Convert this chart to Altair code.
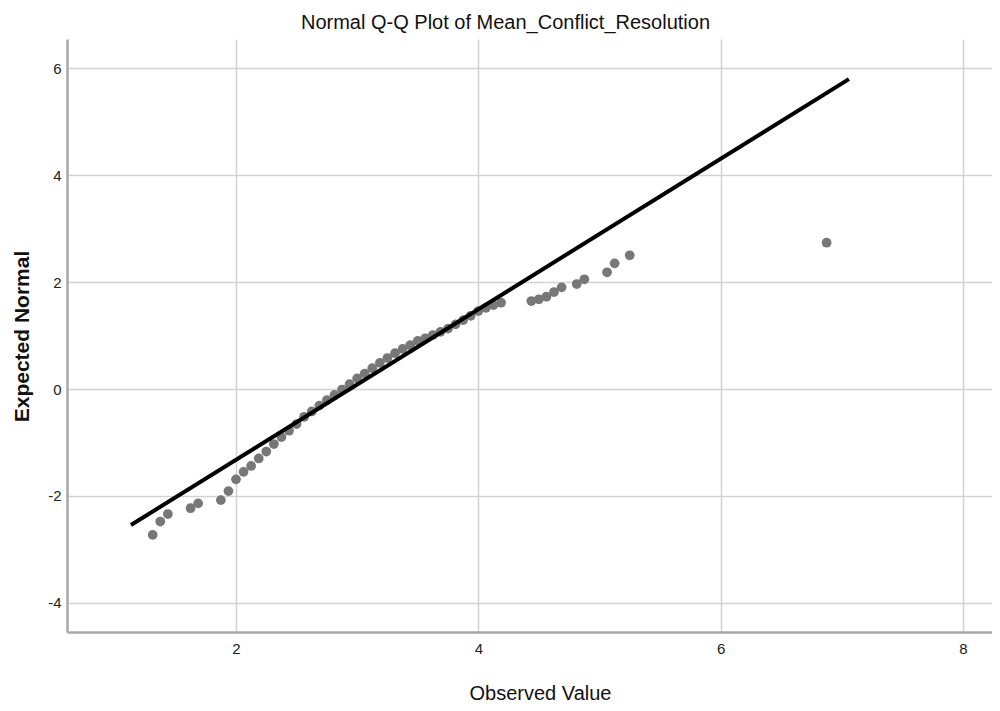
import altair as alt
import pandas as pd

observed = [1.3125, 1.375, 1.4375, 1.625, 1.6875, 1.875, 1.9375, 2.0, 2.0625, 2.125,
            2.1875, 2.25, 2.3125, 2.375, 2.4375, 2.5, 2.5625, 2.625, 2.6875, 2.75,
            2.8125, 2.875, 2.9375, 3.0, 3.0625, 3.125, 3.1875, 3.25, 3.3125, 3.375,
            3.4375, 3.5, 3.5625, 3.625, 3.6875, 3.75, 3.8125, 3.875, 3.9375, 4.0,
            4.0625, 4.125, 4.1875, 4.4375, 4.5, 4.5625, 4.625, 4.6875, 4.8125, 4.875,
            5.0625, 5.125, 5.25, 6.875]
expected = [-2.73, -2.48, -2.34, -2.23, -2.14, -2.08, -1.91, -1.69, -1.55, -1.44,
            -1.30, -1.17, -1.03, -0.90, -0.78, -0.655, -0.52, -0.42, -0.31, -0.21,
            -0.11, -0.01, 0.09, 0.20, 0.29, 0.39, 0.49, 0.58, 0.67, 0.75,
            0.82, 0.90, 0.95, 1.01, 1.07, 1.13, 1.21, 1.29, 1.37, 1.46,
            1.52, 1.57, 1.615, 1.647, 1.679, 1.727, 1.815, 1.903, 1.965, 2.053,
            2.184, 2.352, 2.502, 2.738]

# Reference line end points
line_x = [1.133, 7.059]
line_y = [-2.545, 5.80]

x_ticks = [2, 4, 6, 8]
y_ticks = [-4, -2, 0, 2, 4, 6]

pts = pd.DataFrame({"obs": observed, "exp": expected})
ln = pd.DataFrame({"obs": line_x, "exp": line_y})

FONT = "Liberation Sans"

xscale = alt.Scale(domain=[0.605, 8.24], nice=False, zero=False)
yscale = alt.Scale(domain=[-4.547, 6.55], nice=False, zero=False)

xaxis = alt.Axis(values=x_ticks, title="Observed Value", grid=True, ticks=False,
                 labelExpr="'' + datum.value",
                 labelPadding=9, labelFontSize=15, labelColor="#222222", labelFont=FONT,
                 titleFontSize=20, titleFontWeight="normal", titleColor="#111111", titleFont=FONT,
                 titleX=473, titleY=61, titleBaseline="middle", titleAlign="center",
                 domainColor="#a8a8a8", domainWidth=2.5,
                 gridColor="#d2d2d2", gridWidth=1.5)
yaxis = alt.Axis(values=y_ticks, title="Expected Normal", grid=True, ticks=False,
                 labelExpr="'' + datum.value",
                 labelPadding=6, labelFontSize=15, labelColor="#222222", labelFont=FONT,
                 titleFontSize=21, titleFontWeight="bold", titleColor="#111111", titleFont=FONT,
                 titleX=-45, titleY=297, titleAngle=270, titleBaseline="middle", titleAlign="center",
                 domainColor="#a8a8a8", domainWidth=2.5,
                 gridColor="#d2d2d2", gridWidth=1.5)

points = alt.Chart(pts).mark_circle(size=95, color="#777777", opacity=1).encode(
    x=alt.X("obs:Q", scale=xscale, axis=xaxis),
    y=alt.Y("exp:Q", scale=yscale, axis=yaxis),
)

line = alt.Chart(ln).mark_line(color="#000000", strokeWidth=4).encode(
    x=alt.X("obs:Q", scale=xscale),
    y=alt.Y("exp:Q", scale=yscale),
)

chart = alt.layer(points, line).properties(
    width=925,
    height=593,
    autosize=alt.AutoSizeParams(type="none"),
    padding={"left": 59, "top": 31, "right": 0, "bottom": 71},
    title=alt.TitleParams(
        text="Normal Q-Q Plot of Mean_Conflict_Resolution",
        fontSize=20, fontWeight="normal", font=FONT, color="#111111",
        anchor="middle", dx=-24, dy=22, offset=12, baseline="alphabetic",
    ),
).configure_view(stroke="transparent")

chart.save("out.html", embed_options={"renderer": "svg", "actions": False})
